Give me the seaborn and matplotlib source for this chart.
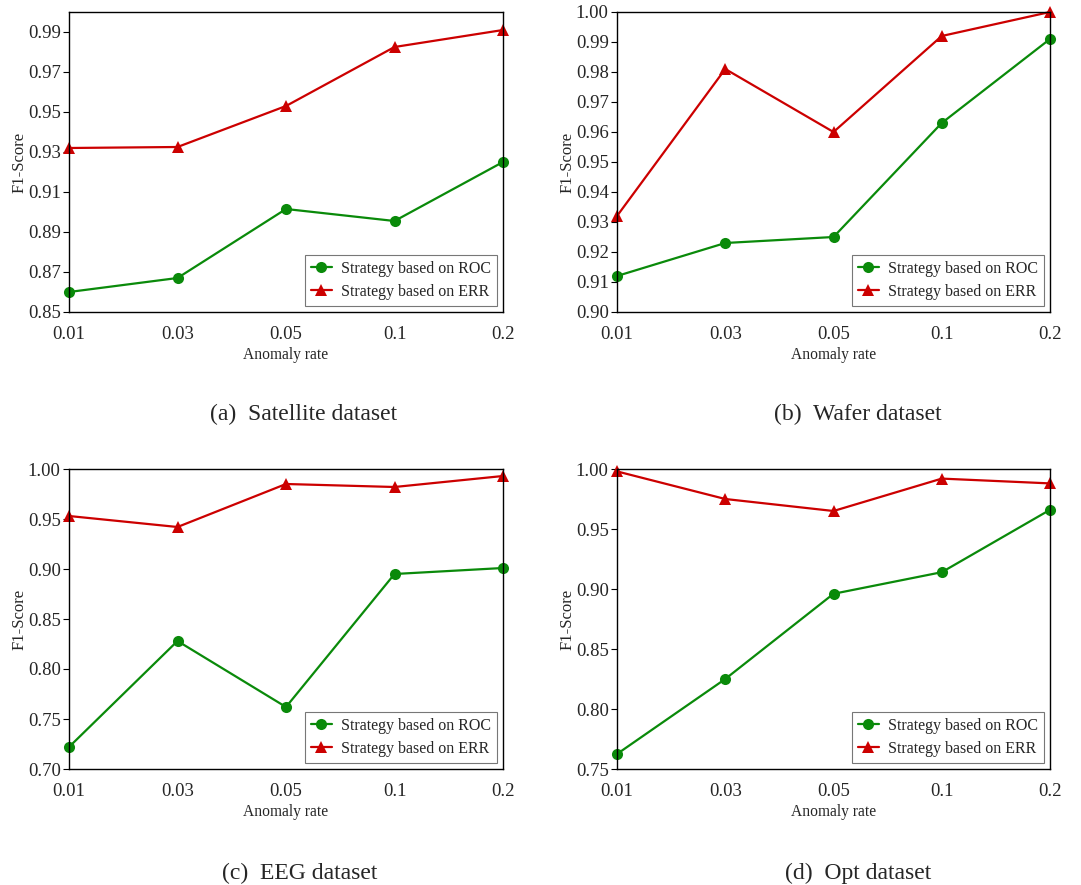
import pandas as pd
import matplotlib.pyplot as plt
import seaborn as sns

# anomaly rates (categorical, evenly spaced on the x axis)
rates = ['0.01', '0.03', '0.05', '0.1', '0.2']

# F1-scores
sat_roc = [0.860, 0.867, 0.9015, 0.8955, 0.925]
sat_err = [0.932, 0.9325, 0.953, 0.9825, 0.991]
wafer_roc = [0.912, 0.923, 0.925, 0.963, 0.991]
wafer_err = [0.932, 0.981, 0.960, 0.992, 1.000]
eeg_roc = [0.722, 0.828, 0.762, 0.895, 0.901]
eeg_err = [0.953, 0.942, 0.985, 0.982, 0.993]
opt_roc = [0.7625, 0.825, 0.896, 0.914, 0.966]
opt_err = [0.998, 0.975, 0.965, 0.992, 0.988]

captions = ['(a)  Satellite dataset', '(b)  Wafer dataset',
            '(c)  EEG dataset', '(d)  Opt dataset']
ylims = [(0.85, 1.00), (0.90, 1.00), (0.70, 1.00), (0.75, 1.00)]
yticks_a = [0.85, 0.87, 0.89, 0.91, 0.93, 0.95, 0.97, 0.99]
yticks_b = [0.90, 0.91, 0.92, 0.93, 0.94, 0.95, 0.96, 0.97, 0.98, 0.99, 1.00]
yticks_c = [0.70, 0.75, 0.80, 0.85, 0.90, 0.95, 1.00]
yticks_d = [0.75, 0.80, 0.85, 0.90, 0.95, 1.00]

sns.set_style('white')
plt.rcParams['font.family'] = ['Liberation Serif', 'DejaVu Serif']

GREEN = '#0a8a0a'
RED = '#cc0000'

fig = plt.figure(figsize=(10.81, 8.85), dpi=100)
W, H = 1081, 885
# axes boxes in pixels: left, top, right, bottom
boxes = [(69, 12, 503, 312), (617, 12, 1050, 312),
         (69, 469, 503, 769), (617, 469, 1050, 769)]
cap_pos = [(304, 414), (858, 414), (300, 873), (858, 873)]

data = [(sat_roc, sat_err), (wafer_roc, wafer_err),
        (eeg_roc, eeg_err), (opt_roc, opt_err)]
ytick_sets = [yticks_a, yticks_b, yticks_c, yticks_d]

for i, (roc, err) in enumerate(data):
    l, t, r, b = boxes[i]
    ax = fig.add_axes([l / W, 1 - b / H, (r - l) / W, (b - t) / H])
    df = pd.DataFrame({
        'rate': rates * 2,
        'f1': roc + err,
        'strategy': ['Strategy based on ROC'] * 5 + ['Strategy based on ERR'] * 5,
    })
    sns.lineplot(data=df, x='rate', y='f1', hue='strategy', style='strategy',
                 markers={'Strategy based on ROC': 'o', 'Strategy based on ERR': '^'},
                 dashes=False, palette={'Strategy based on ROC': GREEN,
                                        'Strategy based on ERR': RED},
                 markersize=8, markeredgewidth=0, linewidth=1.6, ax=ax,
                 clip_on=False)
    ax.set_xlim(0, 4)
    ax.set_ylim(*ylims[i])
    ax.set_yticks(ytick_sets[i])
    ax.set_yticklabels([f'{v:.2f}' for v in ytick_sets[i]])
    ax.tick_params(axis='y', length=4, width=0.8, direction='out', left=True,
                   labelsize=13.5, color='black', pad=2)
    ax.tick_params(axis='x', length=0, labelsize=13.5, pad=10)
    ax.set_xlabel('Anomaly rate', fontsize=11.2, labelpad=3)
    ax.set_ylabel('F1-Score', fontsize=12, labelpad=0)
    for s in ax.spines.values():
        s.set_color('black')
        s.set_linewidth(1.0)
    leg = ax.legend(loc='lower right', fontsize=11.5, frameon=True, fancybox=False,
                    edgecolor='#555555', handlelength=1.35, borderpad=0.35,
                    labelspacing=0.45, handletextpad=0.55, borderaxespad=0.4)
    leg.get_frame().set_linewidth(0.8)
    cx, cy = cap_pos[i]
    fig.text(cx / W, 1 - cy / H, captions[i], ha='center', va='center', fontsize=17)

fig.savefig('out.png', dpi=100, facecolor='white')
